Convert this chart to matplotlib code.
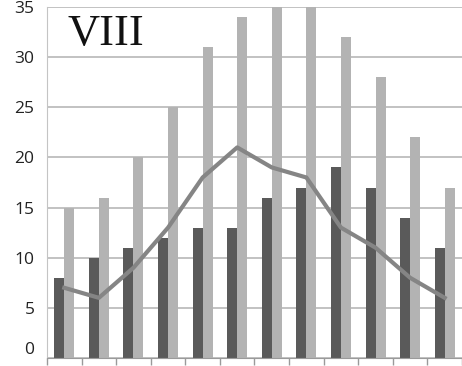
import numpy as np
import matplotlib.pyplot as plt

# данные по месяцам
months = list(range(1, 13))
dark_vals = [8, 10, 11, 12, 13, 13, 16, 17, 19, 17, 14, 11]
light_vals = [15, 16, 20, 25, 31, 34, 36, 36, 32, 28, 22, 17]
line_vals = [7, 6, 9, 13, 18, 21, 19, 18, 13, 11, 8, 6]
yticks = [0, 5, 10, 15, 20, 25, 30, 35]

fig = plt.figure(figsize=(4.62, 3.66), dpi=100)
ax = fig.add_axes([47 / 462, 8 / 366, 1 - 47 / 462, 351 / 366])

x = np.arange(len(months))
w = 0.29
ax.bar(x - w / 2, dark_vals, width=w, color='#5a5a5a', zorder=2)
ax.bar(x + w / 2, light_vals, width=w, color='#b3b3b3', zorder=2)
ax.plot(x, line_vals, color='#858585', linewidth=3, zorder=3)

ax.set_xlim(-0.5, len(months) - 0.5)
ax.set_ylim(0, 35)
ax.set_yticks(yticks)
ax.set_yticklabels([str(v) for v in yticks], fontsize=12.5, family='Open Sans', color='#222222')
ax.set_xticks(np.arange(-0.5, len(months), 1))
ax.set_xticklabels([])
ax.tick_params(axis='x', length=5, color='#9a9a9a', width=1)
ax.tick_params(axis='y', length=0, pad=9)
ax.yaxis.grid(True, color='#bdbdbd', linewidth=1.3, zorder=0)
ax.set_axisbelow(True)

# нижняя подпись "0" поднимается на пару пикселей, чтобы не обрезалась
ax.get_yticklabels()[0].set_verticalalignment('bottom')
ax.get_yticklabels()[0].set_y(-0.9)

for s in ['top', 'right']:
    ax.spines[s].set_visible(False)
ax.spines['left'].set_color('#c4c4c4')
ax.spines['bottom'].set_color('#9a9a9a')

ax.text(0.05, 0.98, 'VIII', transform=ax.transAxes, family='Liberation Serif',
        fontsize=32, va='top', ha='left', color='#111111')

fig.savefig('out.png', dpi=100)
